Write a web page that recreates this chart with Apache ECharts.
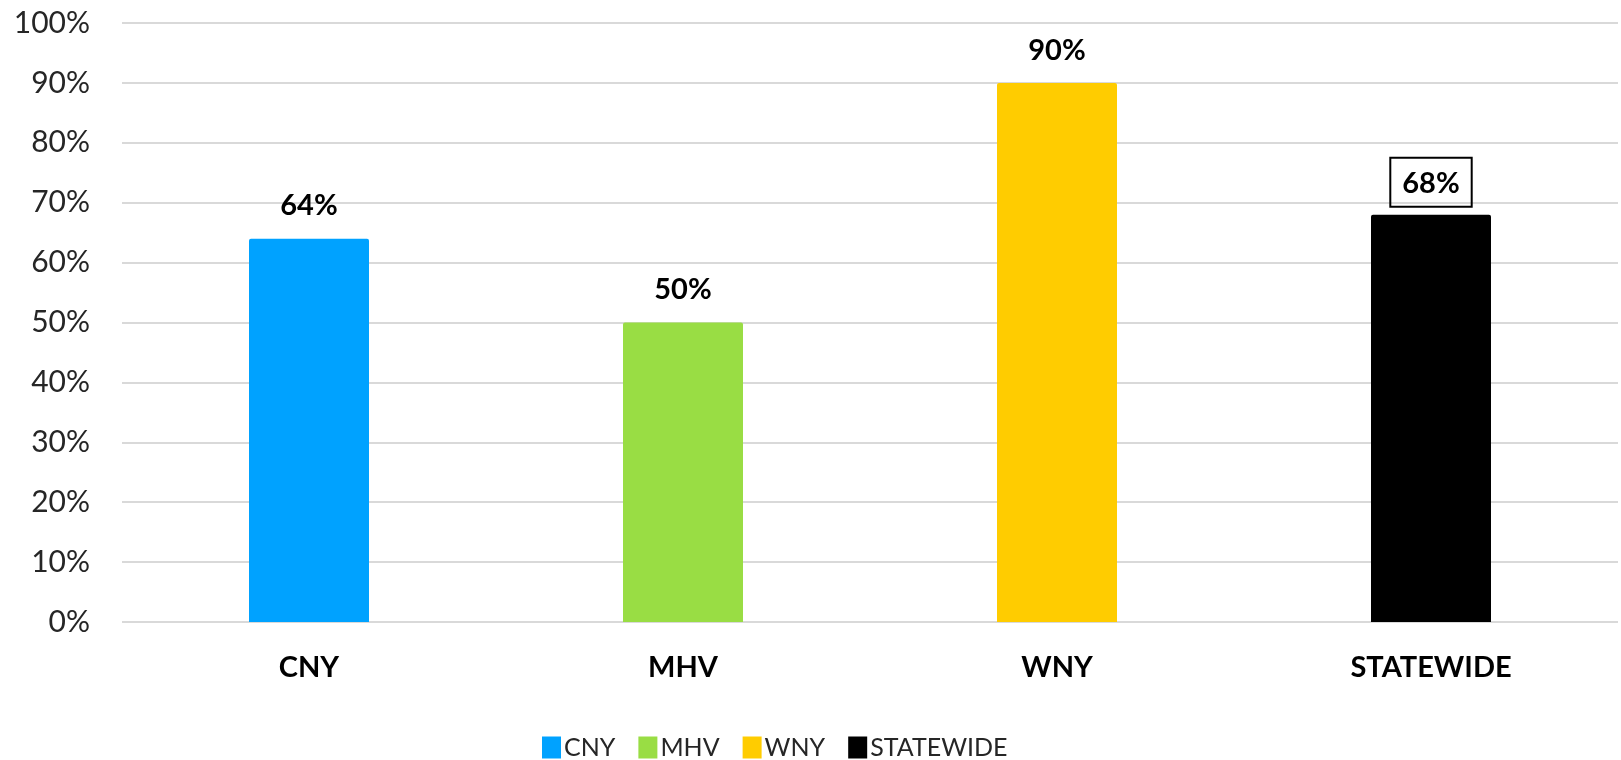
<!DOCTYPE html>
<html>
<head>
<meta charset="utf-8">
<script src="https://cdn.jsdelivr.net/npm/echarts@6/dist/echarts.min.js"></script>
<style>
  html,body{margin:0;padding:0;background:#fff;}
  #main{width:1621px;height:760px;}
</style>
</head>
<body>
<div id="main"></div>
<script>
var regions=['CNY','MHV','WNY','STATEWIDE'];
var values=[64,50,90,68];
var colors=['#00a2ff','#99dd44','#ffcc00','#000000'];
var yTicks=[0,10,20,30,40,50,60,70,80,90,100];

function buildSeries(){
    var list=[];
    for(var i=0;i<regions.length;i++){
        var data=[];
        for(var j=0;j<regions.length;j++){
            data.push(j===i?values[i]:null);
        }
        var label={
            show:true,
            position:'top',
            distance:18,
            formatter:'{c}%',
            color:'#000',
            fontFamily:'Lato',
            fontWeight:'bold',
            fontSize:29
        };
        // statewide value sits in a box
        if(regions[i]==='STATEWIDE'){
            label.borderColor='#000';
            label.borderWidth=2;
            label.padding=[11,12,9,12];
            label.distance=8;
        }
        list.push({
            name:regions[i],
            type:'bar',
            data:data,
            barWidth:120,
            barGap:'-100%',
            itemStyle:{color:colors[i],borderRadius:[2,2,0,0]},
            label:label
        });
    }
    return list;
}

var myChart=echarts.init(document.getElementById('main'));
var option={
    animation:false,
    grid:{left:122,right:3,top:23,bottom:138},
    legend:{
        left:537,
        top:730,
        itemWidth:19,
        itemHeight:22,
        itemGap:23,
        icon:'rect',
        textStyle:{fontFamily:'Lato',fontSize:25,color:'#262626',padding:[0,0,0,-2]},
        data:regions
    },
    xAxis:{
        type:'category',
        data:regions,
        axisLine:{show:false},
        axisTick:{show:false},
        axisLabel:{margin:31,fontFamily:'Lato',fontWeight:'bold',fontSize:29,color:'#000'}
    },
    yAxis:{
        type:'value',
        min:yTicks[0],
        max:yTicks[yTicks.length-1],
        interval:10,
        axisLabel:{formatter:'{value}%',margin:32,fontFamily:'Lato',fontSize:30,color:'#262626'},
        splitLine:{lineStyle:{color:'#d9d9d9',width:2}}
    },
    series:buildSeries()
};
myChart.setOption(option);
</script>
</body>
</html>
